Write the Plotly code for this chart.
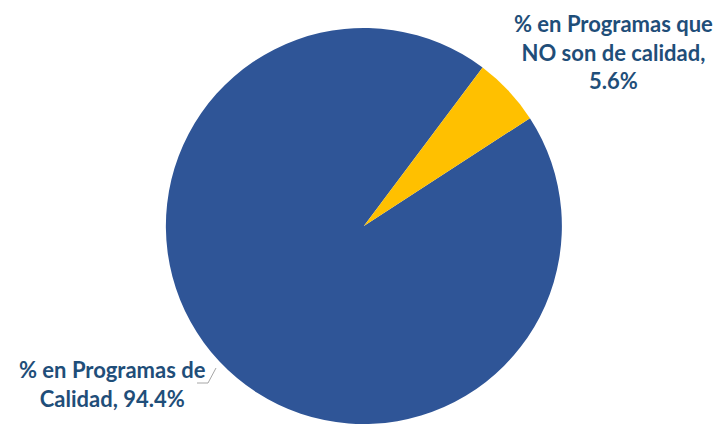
import plotly.graph_objects as go

labels = ["% en Programas de Calidad", "% en Programas que NO son de calidad"]
values = [94.4, 5.6]
colors = ["#2F5597", "#FFC000"]

W, H = 717, 424

fig = go.Figure()
fig.add_trace(go.Pie(
    labels=labels, values=values, sort=False, direction="clockwise",
    rotation=57, marker=dict(colors=colors, line=dict(width=0)),
    textinfo="none", hoverinfo="label+percent", showlegend=False,
    domain=dict(x=[0.230, 0.785], y=[0.0, 0.934]),
))

txt_color = "#1F4E79"
font = dict(family="Lato, Open Sans, sans-serif", size=22, color=txt_color)

fig.add_annotation(
    x=112 / W, y=1 - 384 / H, xref="paper", yref="paper",
    xanchor="center", yanchor="middle",
    text=f"<b>% en Programas de<br>Calidad, {values[0]:.1f}%</b>",
    showarrow=False, font=font, align="center",
)
fig.add_annotation(
    x=613 / W, y=1 - 52 / H, xref="paper", yref="paper",
    xanchor="center", yanchor="middle",
    text=f"<b>% en Programas que<br>NO son de calidad,<br>{values[1]:.1f}%</b>",
    showarrow=False, font=font, align="center",
)

# leader line for the left label
fig.add_shape(type="path", xref="paper", yref="paper",
              path=f"M {197 / W} {1 - 383 / H} L {208 / W} {1 - 383 / H} L {216 / W} {1 - 368 / H}",
              line=dict(color="#A6A6A6", width=1))

fig.update_layout(
    width=W, height=H, margin=dict(l=0, r=0, t=0, b=0),
    paper_bgcolor="white", plot_bgcolor="white",
)

fig.write_html("out.html", config={"displayModeBar": False},
               post_script="document.body.style.margin='0';")
